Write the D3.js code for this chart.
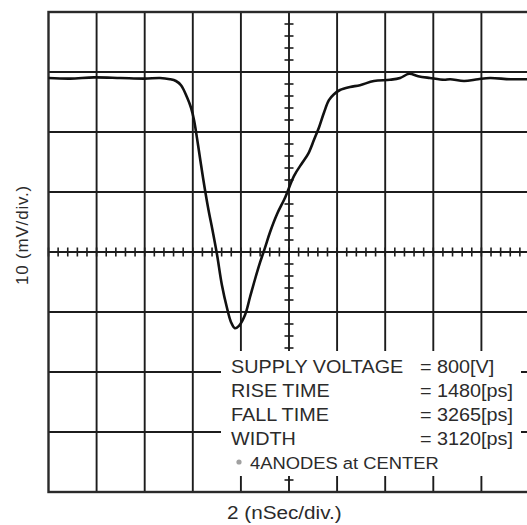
<!DOCTYPE html>
<html>
<head>
<meta charset="utf-8">
<script src="https://d3js.org/d3.v7.min.js"></script>
<style>
  html, body { margin: 0; padding: 0; background: #fff; }
  svg { display: block; font-family: "Liberation Sans", Arial, sans-serif; }
</style>
</head>
<body>
<div id="chart"></div>
<script>
// Waveform (time in ns, amplitude in mV, 0 = centre line)
const timeNs = [0, 0.9, 1.9, 3.0, 4.0, 4.64, 5.05, 5.30, 5.51, 5.76, 5.93, 6.05, 6.22, 6.42, 6.63,
  6.84, 7.01, 7.21, 7.42, 7.59, 7.75, 7.92, 8.17, 8.38, 8.59, 8.80, 9.00, 9.21, 9.50, 9.83,
  10.21, 10.54, 10.79, 11.04, 11.25, 11.46, 11.66, 11.87, 12.12, 12.54, 12.95, 13.53, 14.20,
  14.62, 14.99, 15.37, 15.86, 16.45, 16.70, 17.28, 17.86, 18.36, 19.19, 20.0];
const voltMv = [29.0, 28.9, 29.1, 29.0, 28.9, 29.0, 28.8, 28.5, 27.8, 25.8, 24.0, 22.0, 17.8, 12.5, 7.5,
  3.2, -0.5, -5.5, -9.3, -11.7, -12.7, -12.3, -10.5, -7.5, -4.5, -1.7, 0.7, 3.3, 6.3, 9.0,
  12.7, 14.8, 16.3, 18.7, 20.8, 23.3, 25.3, 26.3, 27.0, 27.5, 27.8, 28.5, 28.7,
  29.0, 29.7, 29.3, 29.0, 28.7, 28.8, 28.5, 28.8, 29.0, 28.8, 28.8];

// Scope divisions
const xDivs = 10;       // 2 ns / div
const yDivs = 8;        // 10 mV / div
const minorPerDiv = 5;

// Texts
const xLabel = "2 (nSec/div.)";
const yLabel = "10 (mV/div.)";
const infoNames = ["SUPPLY VOLTAGE", "RISE TIME", "FALL TIME", "WIDTH"];
const infoValues = ["= 800[V]", "= 1480[ps]", "= 3265[ps]", "= 3120[ps]"];
const infoNote = "4ANODES at CENTER";

const width = 527;
const height = 525;
const ink = "#1c1c1c";

const svg = d3.select("#chart").append("svg")
  .attr("width", width)
  .attr("height", height);

const x = d3.scaleLinear().domain([0, 20]).range([48.5, 529.5]);
const y = d3.scaleLinear().domain([-40, 40]).range([492, 12]);

const xStep = 20 / xDivs;
const yStep = 80 / yDivs;

// grille
const grid = svg.append("g").attr("stroke", ink).attr("stroke-width", 1.9);

grid.selectAll("line.v")
  .data(d3.range(1, xDivs).map((i) => i * xStep))
  .join("line")
  .attr("class", "v")
  .attr("x1", (d) => x(d)).attr("x2", (d) => x(d))
  .attr("y1", y(40)).attr("y2", y(-40));

grid.selectAll("line.h")
  .data(d3.range(1, yDivs).map((i) => -40 + i * yStep))
  .join("line")
  .attr("class", "h")
  .attr("x1", x(0)).attr("x2", x(20))
  .attr("y1", (d) => y(d)).attr("y2", (d) => y(d));

// petites graduations sur les axes centraux
const xMinor = d3.range(0, xDivs * minorPerDiv + 1).map((i) => (i * xStep) / minorPerDiv);
const yMinor = d3.range(0, yDivs * minorPerDiv + 1).map((i) => -40 + (i * yStep) / minorPerDiv);

grid.selectAll("line.xm")
  .data(xMinor)
  .join("line")
  .attr("class", "xm")
  .attr("x1", (d) => x(d)).attr("x2", (d) => x(d))
  .attr("y1", y(0) - 4.5).attr("y2", y(0) + 4.5)
  .attr("stroke-width", 1.6);

grid.selectAll("line.ym")
  .data(yMinor)
  .join("line")
  .attr("class", "ym")
  .attr("x1", x(10) - 4.5).attr("x2", x(10) + 4.5)
  .attr("y1", (d) => y(d)).attr("y2", (d) => y(d))
  .attr("stroke-width", 1.6);

// cadre
svg.append("rect")
  .attr("x", x(0)).attr("y", y(40))
  .attr("width", x(20) - x(0)).attr("height", y(-40) - y(40))
  .attr("fill", "none")
  .attr("stroke", "#2a2a2a")
  .attr("stroke-width", 2.4);

// signal
const line = d3.line()
  .x((d, i) => x(timeNs[i]))
  .y((d) => y(d))
  .curve(d3.curveCatmullRom.alpha(0.5));

svg.append("path")
  .datum(voltMv)
  .attr("d", line)
  .attr("fill", "none")
  .attr("stroke", "#111")
  .attr("stroke-width", 2.6)
  .attr("stroke-linejoin", "round");

// cartouche blanc avec les caractéristiques
svg.append("rect")
  .attr("x", 221).attr("y", 351)
  .attr("width", 300).attr("height", 125)
  .attr("fill", "#fff");

function stretchedText(parent, tx, ty, txt, size, sx) {
  return parent.append("text")
    .attr("transform", `translate(${tx},${ty}) scale(${sx},1)`)
    .attr("font-size", size)
    .attr("fill", "#2b2b2b")
    .text(txt);
}

const info = svg.append("g");
infoNames.forEach((name, i) => {
  stretchedText(info, 231, 373 + i * 24, name, 18, 1.1);
  stretchedText(info, 420, 373 + i * 24, infoValues[i], 18, 1.1);
});

info.append("circle")
  .attr("cx", 239).attr("cy", 462)
  .attr("r", 2.6)
  .attr("fill", "#a0a0a0");
stretchedText(info, 250, 468.5, infoNote, 17, 1.08);

// titres des axes
stretchedText(svg, 227, 519, xLabel, 18.5, 1.12);

svg.append("text")
  .attr("transform", "translate(28," + 235 + ") rotate(-90)")
  .attr("text-anchor", "middle")
  .attr("font-size", 17)
  .attr("letter-spacing", 0.8)
  .attr("fill", "#2b2b2b")
  .text(yLabel);
</script>
</body>
</html>
